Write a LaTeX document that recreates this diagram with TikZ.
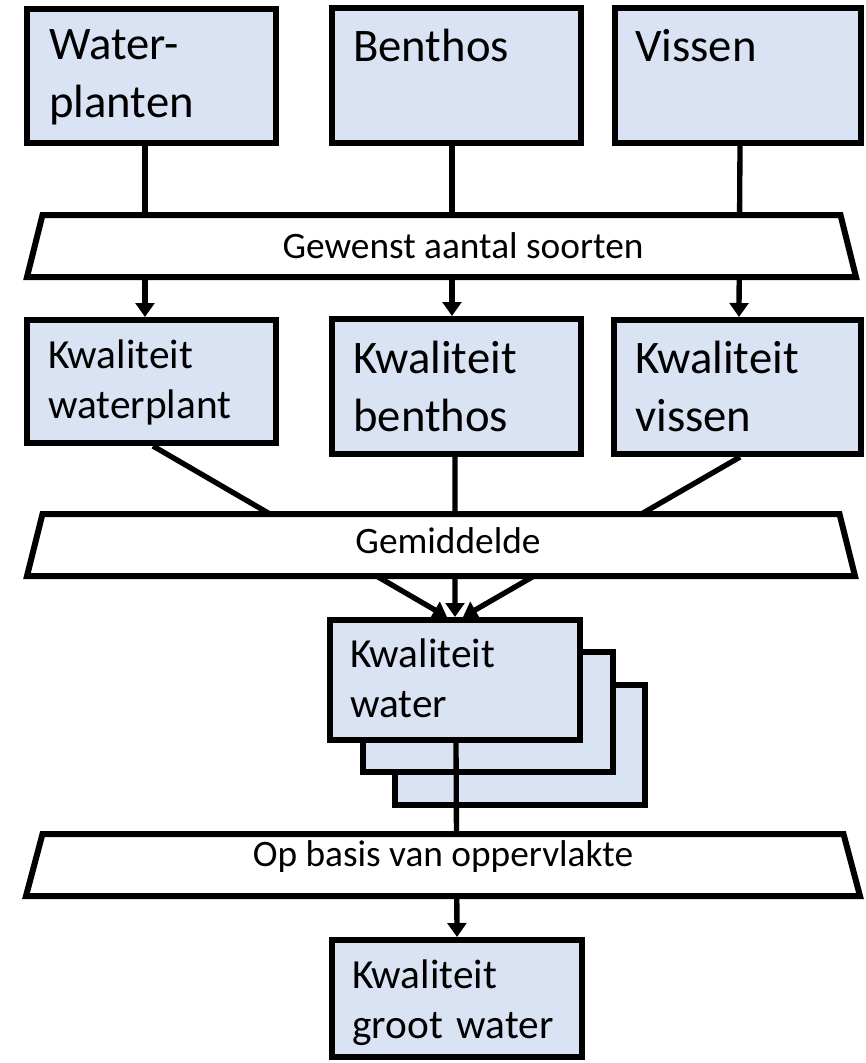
\documentclass[tikz,border=0pt]{standalone}
\usepackage{fontspec}
\setmainfont{Carlito}
\usetikzlibrary{arrows.meta,calc}
\definecolor{boxfill}{HTML}{DAE3F3}
\tikzset{
  box/.style={draw=black, line width=4.5pt, fill=boxfill, rectangle, inner sep=0pt},
  bigtxt/.style={font=\fontsize{35}{43.5}\selectfont, inner sep=0pt, anchor=base west, text width=200pt, align=left},
  smalltxt/.style={font=\fontsize{31}{37.5}\selectfont, inner sep=0pt, anchor=base west, text width=200pt, align=left},
  trap/.style={draw=black, line width=4.5pt, fill=white},
  tlabel/.style={font=\fontsize{28}{32}\selectfont, inner sep=0pt, anchor=base},
  arr/.style={line width=4pt, -{Triangle[length=10.5pt,width=14pt]}},
  plain/.style={line width=4pt}
}
\begin{document}
\begin{tikzpicture}[x=0.75pt,y=-0.75pt]
\useasboundingbox (0,0) rectangle (866,1063);
% top row
\node[box, minimum width=186.75pt, minimum height=100.5pt] (wp) at (151.5,76) {};
\node[box, minimum width=186.75pt, minimum height=101.25pt] (be) at (456.5,75.5) {};
\node[box, minimum width=184.5pt, minimum height=101.25pt] (vi) at (738,75.5) {};
% second row
\node[box, minimum width=186.75pt, minimum height=92.25pt] (kwp) at (151.5,381.5) {};
\node[box, minimum width=186.75pt, minimum height=101.25pt] (kbe) at (456.5,386.5) {};
\node[box, minimum width=185.25pt, minimum height=100.5pt] (kvi) at (737.5,387) {};
% water stack
\node[box, minimum width=187.5pt, minimum height=90pt] (back2) at (519.5,745) {};
\node[box, minimum width=187.5pt, minimum height=90pt] (back1) at (487.5,712) {};
\node[box, minimum width=187.5pt, minimum height=90pt] (water) at (455,680) {};
% bottom
\node[box, minimum width=187.5pt, minimum height=87.75pt] (groot) at (457,998.5) {};
% texts
\node[bigtxt] (wpt) at (49,60) {Water-\\planten};
\node[bigtxt] (bet) at (353,61) {Benthos};
\node[bigtxt] (vit) at (635,61) {Vissen};
\node[smalltxt] (kwpt) at (48,368) {Kwaliteit\\waterplant};
\node[bigtxt] (kbet) at (353,373) {Kwaliteit\\benthos};
\node[bigtxt] (kvit) at (635,373) {Kwaliteit\\vissen};
\node[smalltxt] (watert) at (350,667) {Kwaliteit\\water};
\node[smalltxt] (groott) at (352,988) {Kwaliteit\\groot water};
% connectors
\draw[arr] ([xshift=-4.9pt]wp.south) -- ([xshift=-4.9pt]kwp.north);
\draw[arr] ([xshift=-3.4pt]be.south) -- ([xshift=-3.4pt]kbe.north);
\draw[arr] ([xshift=1.5pt]vi.south) -- ([xshift=1.1pt]kvi.north);
\draw[arr] ([xshift=1.1pt]kwp.south) -- ([xshift=-6pt]water.north);
\draw[arr] ([xshift=-1.1pt]kbe.south) -- (water.north);
\draw[arr] ([xshift=1.9pt]kvi.south) -- ([xshift=6pt]water.north);
\draw[arr] ([xshift=0.75pt]water.south) -- (groot.north);
% trapezoids
\draw[trap] (42.5,215) -- (840.5,215) -- (856,277) -- (27,277) -- cycle;
\draw[trap] (42.5,514) -- (839.5,514) -- (855,576) -- (27,576) -- cycle;
\draw[trap] (42.5,834) -- (843.5,834) -- (860,896) -- (26,896) -- cycle;
\node[tlabel] (t1) at (463,258) {Gewenst aantal soorten};
\node[tlabel] (t2) at (448,553) {Gemiddelde};
\node[tlabel] (t3) at (443,866) {Op basis van oppervlakte};
\end{tikzpicture}
\end{document}
